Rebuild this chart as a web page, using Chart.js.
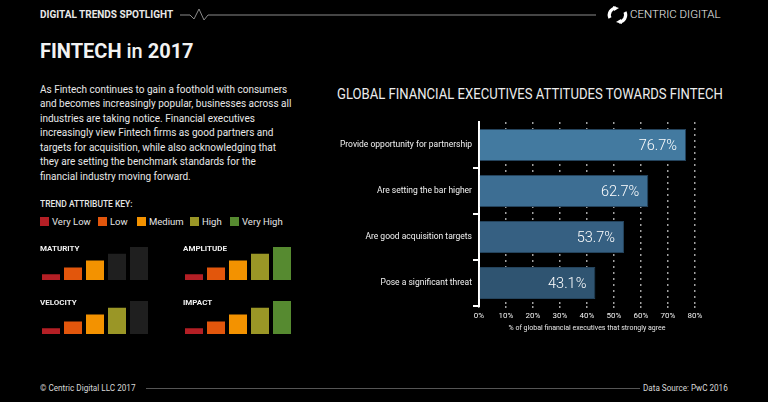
<!DOCTYPE html>
<html>
<head>
<meta charset="utf-8">
<script src="https://cdn.jsdelivr.net/npm/chart.js@4.4.0/dist/chart.umd.min.js"></script>
<style>
  html, body { margin: 0; padding: 0; background: #000; }
  body { width: 768px; height: 402px; position: relative; overflow: hidden; font-family: Roboto, "Noto Sans", sans-serif; color: #fff; }
  .abs { position: absolute; white-space: nowrap; transform-origin: 0 0; }
  #header { left: 40px; top: 9px; font-size: 10px; line-height: 12px; font-weight: 700; color: #e8e8e8; }
  #brand { left: 630px; top: 8px; font-size: 11.5px; line-height: 13px; font-weight: 300; color: #f0f0f0; }
  #title { left: 40px; top: 41px; font-size: 20px; line-height: 20px; font-weight: 700; color: #f2f2f2; }
  #title span { font-weight: 500; }
  #intro { left: 40px; top: 83px; font-size: 10px; line-height: 14.45px; color: #e8e8e8; white-space: pre; }
  #chartTitle { left: 337px; top: 87px; font-size: 15px; line-height: 15px; transform: scaleX(0.872); color: #ececec; }
  #keyTitle { left: 40px; top: 200px; font-size: 9px; line-height: 9px; font-weight: 500; transform: scaleX(0.94); color: #e6e6e6; }
  .key { top: 217px; font-size: 9.5px; line-height: 9px; color: #e6e6e6; }
  .key i { display: inline-block; width: 9px; height: 9px; vertical-align: top; margin-right: 3px; }
  .attr { font-size: 8px; line-height: 8px; font-weight: 700; color: #f0f0f0; z-index: 2; }
  .mini { position: absolute; width: 110px; height: 34px; }
  #mainWrap { position: absolute; left: 320px; top: 110px; width: 430px; height: 230px; }
  .foot { top: 383px; font-size: 8.5px; line-height: 10px; color: #d8d8d8; }
</style>
</head>
<body>
<svg class="abs" style="left:0;top:0" width="768" height="402">
  <polyline points="180,15 190,15 194,19 199,9 204,20 208,15 596,15" fill="none" stroke="#8a8a8a" stroke-width="1"/>
  <path d="M 616 8 A 7 7 0 0 0 610 18" fill="none" stroke="#fff" stroke-width="3.2"/>
  <path d="M 619 22 A 7 7 0 0 0 625 12" fill="none" stroke="#fff" stroke-width="3.2"/>
  <polygon points="613,6 619,8 614,11" fill="#fff"/>
  <polygon points="622,24 616,22 621,19" fill="#fff"/>
  <line x1="146" y1="388.5" x2="640" y2="388.5" stroke="#555" stroke-width="1"/>
</svg>
<div id="header" class="abs">DIGITAL TRENDS SPOTLIGHT</div>
<div id="brand" class="abs">CENTRIC DIGITAL</div>
<div id="title" class="abs">FINTECH <span>in</span> 2017</div>
<div id="intro" class="abs">As Fintech continues to gain a foothold with consumers
and becomes increasingly popular, businesses across all
industries are taking notice. Financial executives
increasingly view Fintech firms as good partners and
targets for acquisition, while also acknowledging that
they are setting the benchmark standards for the
financial industry moving forward.</div>
<div id="chartTitle" class="abs">GLOBAL FINANCIAL EXECUTIVES ATTITUDES TOWARDS FINTECH</div>
<div id="keyTitle" class="abs">TREND ATTRIBUTE KEY:</div>
<div id="keyRow"></div>
<div id="minis"></div>
<div id="mainWrap"><canvas id="mainChart"></canvas></div>
<div class="abs foot" style="left:40px;transform:scaleX(0.96)">© Centric Digital LLC 2017</div>
<div class="abs foot" style="right:40px;transform:scaleX(0.955);transform-origin:100% 0">Data Source: PwC 2016</div>

<script>
// data for the main chart
const categories = [
    "Provide opportunity for partnership",
    "Are setting the bar higher",
    "Are good acquisition targets",
    "Pose a significant threat"
];
const agreeShare = [76.7, 62.7, 53.7, 43.1]; // % strongly agree
const xTickValues = [0, 10, 20, 30, 40, 50, 60, 70, 80];

// data for the trend attribute key
const levelNames = ["Very Low", "Low", "Medium", "High", "Very High"];
const levelHeights = [1, 2, 3, 4, 5];
const attributeNames = ["MATURITY", "AMPLITUDE", "VELOCITY", "IMPACT"];
const attributeScores = [3, 5, 4, 5];

const barColors = ["#437aa0", "#3d6e93", "#366082", "#2f5471"];
const levelColors = ["#b41f25", "#e2560c", "#f39200", "#9a9626", "#568a30"];
const offColor = "#1f1f1f";

// legend row
const keyX = [40, 98, 137, 190, 230];
const keyRow = document.getElementById("keyRow");
levelNames.forEach((name, i) => {
    const d = document.createElement("div");
    d.className = "abs key";
    d.style.left = keyX[i] + "px";
    d.innerHTML = `<i style="background:${levelColors[i]}"></i>${name}`;
    keyRow.appendChild(d);
});

// small attribute charts
const miniPos = [[40, 246], [183, 246], [40, 300], [183, 300]];
const minis = document.getElementById("minis");
attributeNames.forEach((name, k) => {
    const [left, top] = miniPos[k];
    const label = document.createElement("div");
    label.className = "abs attr";
    label.style.left = left + "px";
    label.style.top = (top - 1) + "px";
    label.textContent = name;
    minis.appendChild(label);

    const box = document.createElement("div");
    box.className = "mini";
    box.style.left = left + "px";
    box.style.top = top + "px";
    const cv = document.createElement("canvas");
    box.appendChild(cv);
    minis.appendChild(box);

    new Chart(cv, {
        type: "bar",
        data: {
            labels: levelNames,
            datasets: [{
                data: levelHeights,
                backgroundColor: levelHeights.map((v, i) => i < attributeScores[k] ? levelColors[i] : offColor),
                borderColor: "rgba(0,0,0,0.35)",
                borderWidth: 1,
                categoryPercentage: 1,
                barPercentage: 20 / 22
            }]
        },
        options: {
            responsive: true,
            maintainAspectRatio: false,
            animation: false,
            layout: { padding: 0 },
            plugins: { legend: { display: false }, tooltip: { enabled: false } },
            scales: {
                x: { display: false },
                y: { display: false, min: 0, max: 5 }
            }
        }
    });
});

// value labels inside the bars
const valueLabels = {
    id: "valueLabels",
    afterDatasetsDraw(chart) {
        const ctx = chart.ctx;
        const meta = chart.getDatasetMeta(0);
        ctx.save();
        ctx.font = "300 14.5px Roboto";
        ctx.fillStyle = "#ffffff";
        ctx.textAlign = "right";
        ctx.textBaseline = "middle";
        meta.data.forEach((bar, i) => {
            ctx.fillText(agreeShare[i].toFixed(1) + "%", bar.x - 9, bar.y + 1);
        });
        ctx.restore();
    }
};

new Chart(document.getElementById("mainChart"), {
    type: "bar",
    data: {
        labels: categories,
        datasets: [{
            data: agreeShare,
            backgroundColor: barColors,
            borderColor: "#24435c",
            borderWidth: 1,
            categoryPercentage: 1,
            barPercentage: 0.7
        }]
    },
    options: {
        indexAxis: "y",
        responsive: true,
        maintainAspectRatio: false,
        animation: false,
        layout: { padding: { top: 12, right: 55, bottom: 0, left: 0 } },
        plugins: { legend: { display: false }, tooltip: { enabled: false } },
        scales: {
            y: {
                afterFit: s => { s.width = 159; },
                border: { color: "#ffffff", width: 2 },
                grid: {
                    drawOnChartArea: false,
                    tickLength: 6,
                    color: c => (c.index === 0 || c.index === categories.length) ? "rgba(0,0,0,0)" : "#ffffff",
                    lineWidth: 2
                },
                ticks: { color: "#f2f2f2", padding: 1, font: { family: "Roboto", size: 8.5 } }
            },
            x: {
                min: 0,
                max: 80,
                afterFit: s => { s.height = 34; },
                afterBuildTicks: s => { s.ticks = xTickValues.map(v => ({ value: v })); },
                border: { display: false, dash: [2, 4] },
                grid: { color: "#a0a0a0", lineWidth: 1.5, tickLength: 3, tickBorderDash: [2, 4] },
                ticks: {
                    color: "#f2f2f2", padding: 2,
                    font: { family: "Roboto", size: 8 },
                    callback: v => v + "%"
                },
                title: {
                    display: true,
                    text: "% of global financial executives that strongly agree",
                    color: "#e8e8e8",
                    font: { family: "Roboto", size: 7 },
                    padding: { top: 3, bottom: 8 }
                }
            }
        }
    },
    plugins: [valueLabels]
});
</script>
</body>
</html>
